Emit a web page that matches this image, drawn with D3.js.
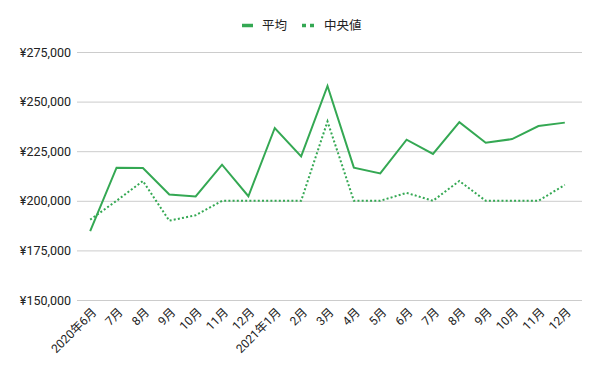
<!DOCTYPE html>
<html>
<head>
<meta charset="utf-8">
<script src="https://cdn.jsdelivr.net/npm/d3@7"></script>
<style>
  body { margin: 0; background: #fff; }
  text { font-family: Roboto, "Noto Sans CJK JP", sans-serif; fill: #222; }
</style>
</head>
<body>
<div id="chart"></div>
<script>
// data
const months = ["2020年6月", "7月", "8月", "9月", "10月", "11月", "12月",
  "2021年1月", "2月", "3月", "4月", "5月", "6月", "7月", "8月", "9月", "10月", "11月", "12月"];
const meanValues = [184700, 216700, 216500, 203200, 202200, 218200, 202300,
  236700, 222400, 257900, 216700, 213800, 230800, 223600, 239600, 229300, 231100, 237700, 239400];
const medianValues = [190500, 200000, 210000, 190000, 192700, 200000, 200000,
  200000, 200000, 240000, 200000, 200000, 204000, 200000, 210000, 200000, 200000, 200000, 208000];
const yTicks = [150000, 175000, 200000, 225000, 250000, 275000];
const seriesNames = ["平均", "中央値"];

const width = 600, height = 371;
const margin = {top: 52, right: 18, bottom: 71, left: 77};
const green = "#34a853";

const svg = d3.select("#chart").append("svg")
    .attr("width", width)
    .attr("height", height);

const x = d3.scalePoint()
    .domain(d3.range(months.length))
    .range([margin.left, width - margin.right - 4])
    .padding(0.5);

const y = d3.scaleLinear()
    .domain([150000, 275000])
    .range([height - margin.bottom, margin.top]);

// gridlines + y labels
const yAxis = d3.axisLeft(y)
    .tickValues(yTicks)
    .tickSize(-(width - margin.left - margin.right))
    .tickPadding(6)
    .tickFormat(d => "¥" + d3.format(",")(d));

svg.append("g")
    .attr("transform", "translate(" + margin.left + ",0)")
    .call(yAxis)
    .call(g => g.select(".domain").remove())
    .call(g => g.selectAll(".tick line").attr("stroke", "#cccccc"))
    .call(g => g.selectAll(".tick text")
        .attr("font-size", 12.5)
        .attr("fill", "#222")
        .attr("x", -6));

// x labels, rotated
svg.append("g")
    .selectAll("text")
    .data(months)
    .join("text")
    .attr("transform", (d, i) => "translate(" + (x(i) + 4) + "," + 310 + ") rotate(-45)")
    .attr("text-anchor", "end")
    .attr("dy", "0.35em")
    .attr("font-size", 12)
    .text(d => d);

const line = d3.line()
    .x((d, i) => x(i))
    .y(d => y(d));

svg.append("path")
    .datum(medianValues)
    .attr("fill", "none")
    .attr("stroke", green)
    .attr("stroke-width", 2)
    .attr("stroke-dasharray", "2,2.2")
    .attr("d", line);

svg.append("path")
    .datum(meanValues)
    .attr("fill", "none")
    .attr("stroke", green)
    .attr("stroke-width", 2)
    .attr("d", line);

// legend
const legend = svg.append("g");
legend.append("line")
    .attr("x1", 242).attr("x2", 253)
    .attr("y1", 25.5).attr("y2", 25.5)
    .attr("stroke", green)
    .attr("stroke-width", 3.5);
legend.append("text")
    .attr("x", 262).attr("y", 25.5)
    .attr("dy", "0.35em")
    .attr("font-size", 12.5)
    .text(seriesNames[0]);
legend.append("line")
    .attr("x1", 302).attr("x2", 314)
    .attr("y1", 25.5).attr("y2", 25.5)
    .attr("stroke", green)
    .attr("stroke-width", 3.5)
    .attr("stroke-dasharray", "4,4");
legend.append("text")
    .attr("x", 324).attr("y", 25.5)
    .attr("dy", "0.35em")
    .attr("font-size", 12.5)
    .text(seriesNames[1]);
</script>
</body>
</html>
